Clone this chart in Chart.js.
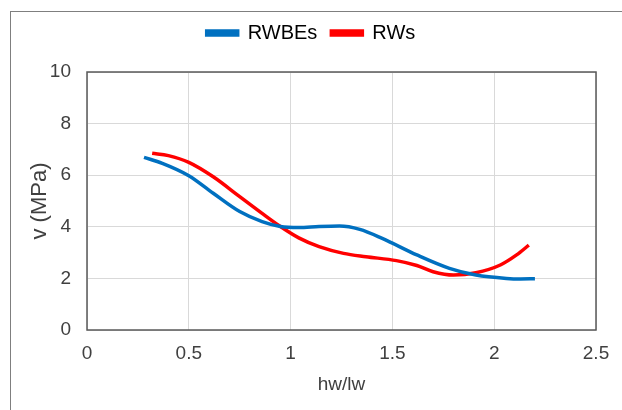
<!DOCTYPE html>
<html>
<head>
<meta charset="utf-8">
<script src="https://cdn.jsdelivr.net/npm/chart.js@4"></script>
<style>
  html, body { margin: 0; padding: 0; background: #fff; }
  #wrap { width: 622px; height: 410px; position: relative; }
</style>
</head>
<body>
<div id="wrap"><canvas id="c" width="622" height="410"></canvas></div>
<script>
// Shear stress v (MPa) against aspect ratio hw/lw
const rwbeX = [0.28, 0.37, 0.50, 0.62, 0.75, 0.86, 0.95, 1.04, 1.14, 1.24, 1.34, 1.45, 1.62, 1.78, 1.91, 2.06, 2.13, 2.20];
const rwbeY = [6.69, 6.46, 5.98, 5.30, 4.59, 4.20, 4.01, 3.97, 4.01, 4.03, 3.90, 3.55, 2.91, 2.39, 2.13, 2.00, 1.98, 1.99];
const rwX = [0.32, 0.40, 0.50, 0.62, 0.75, 0.86, 0.95, 1.04, 1.14, 1.26, 1.37, 1.52, 1.62, 1.70, 1.80, 1.91, 2.03, 2.11, 2.17];
const rwY = [6.85, 6.76, 6.50, 5.94, 5.17, 4.52, 4.01, 3.57, 3.23, 2.97, 2.84, 2.69, 2.50, 2.26, 2.13, 2.22, 2.52, 2.91, 3.29];
const seriesNames = ['RWBEs', 'RWs'];
const xTicks = [0, 0.5, 1, 1.5, 2, 2.5];
const yTicks = [0, 2, 4, 6, 8, 10];

const FONT = "'Liberation Sans', Arial, sans-serif";
const TEXT = '#404040';
const LEGEND_BAND = 63;   // height reserved above the plot for the legend

const pts = (xs, ys) => xs.map((x, i) => ({ x: x, y: ys[i] }));

// outer chart frame and plot-area border
const framePlugin = {
  id: 'frames',
  beforeLayout(chart) {
    const lg = chart.legend;
    if (lg && !lg._bandFit) {
      const fit = lg.fit.bind(lg);
      lg.fit = function () { fit(); this.height = LEGEND_BAND; };
      lg._bandFit = true;
    }
  },
  beforeDraw(chart) {
    const ctx = chart.ctx;
    ctx.save();
    ctx.fillStyle = '#fff';
    ctx.fillRect(0, 0, chart.width, chart.height);
    ctx.strokeStyle = '#7f7f7f';
    ctx.lineWidth = 1;
    ctx.strokeRect(10.5, 11.5, chart.width + 20, chart.height + 20);
    ctx.restore();
  },
  afterDatasetsDraw(chart) {
    const a = chart.chartArea;
    const ctx = chart.ctx;
    ctx.save();
    ctx.strokeStyle = '#595959';
    ctx.lineWidth = 1.5;
    ctx.strokeRect(a.left, a.top, a.right - a.left, a.bottom - a.top);
    ctx.restore();
  }
};

new Chart(document.getElementById('c'), {
  type: 'scatter',
  data: {
    datasets: [
      {
        label: seriesNames[0],
        data: pts(rwbeX, rwbeY),
        showLine: true,
        borderColor: '#0070C0',
        backgroundColor: '#0070C0',
        borderWidth: 3.5,
        pointRadius: 0,
        tension: 0.4,
        cubicInterpolationMode: 'monotone'
      },
      {
        label: seriesNames[1],
        data: pts(rwX, rwY),
        showLine: true,
        borderColor: '#FF0000',
        backgroundColor: '#FF0000',
        borderWidth: 3.5,
        pointRadius: 0,
        tension: 0.4,
        cubicInterpolationMode: 'monotone'
      }
    ]
  },
  options: {
    responsive: false,
    animation: false,
    events: [],
    layout: { padding: { left: 26, right: 26, top: 9, bottom: 0 } },
    plugins: {
      tooltip: { enabled: false },
      legend: {
        position: 'top',
        labels: {
          boxWidth: 31,
          boxHeight: 4,
          padding: 14,
          color: '#000',
          font: { family: FONT, size: 20 }
        }
      }
    },
    scales: {
      x: {
        type: 'linear',
        min: 0, max: 2.5,
        afterBuildTicks(s) { s.ticks = xTicks.map(v => ({ value: v })); },
        afterFit(s) { s.height = 80; },
        grid: { color: '#d9d9d9', lineWidth: 1, drawTicks: false },
        border: { display: false },
        ticks: {
          color: TEXT, padding: 12, maxRotation: 0,
          font: { family: FONT, size: 19 },
          callback: v => String(v)
        },
        title: { display: true, text: 'hw/lw', color: TEXT, font: { family: FONT, size: 19 }, padding: { top: 0, bottom: 14 } }
      },
      y: {
        type: 'linear',
        min: 0, max: 10,
        afterBuildTicks(s) { s.ticks = yTicks.map(v => ({ value: v })); },
        afterFit(s) { s.width = 61; },
        grid: { color: '#d9d9d9', lineWidth: 1, drawTicks: false },
        border: { display: false },
        ticks: { color: TEXT, padding: 16, font: { family: FONT, size: 19 } },
        title: { display: true, text: 'v (MPa)', color: TEXT, font: { family: FONT, size: 22 }, padding: { top: 1, bottom: 0 } }
      }
    }
  },
  plugins: [framePlugin]
});
</script>
</body>
</html>
